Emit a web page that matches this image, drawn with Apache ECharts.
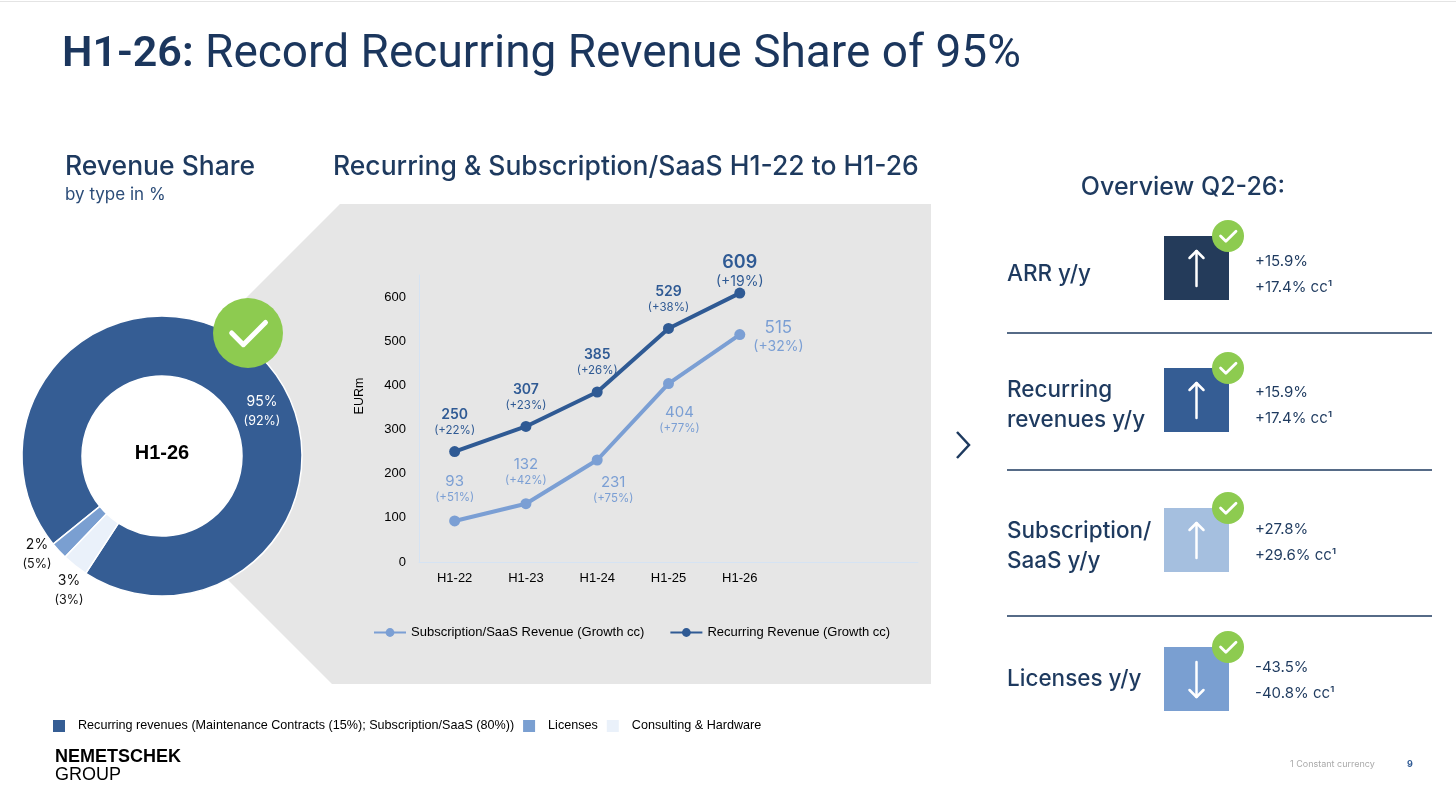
<!DOCTYPE html>
<html>
<head>
<meta charset="utf-8">
<script src="https://cdn.jsdelivr.net/npm/echarts@6/dist/echarts.min.js"></script>
<style>
  html, body { margin: 0; padding: 0; background: #fff; }
  #chart { width: 1456px; height: 801px; }
</style>
</head>
<body>
<div id="chart"></div>
<script>
// --- data ---
const pieNames = [
  'Recurring revenues (Maintenance Contracts (15%); Subscription/SaaS (80%))',
  'Licenses',
  'Consulting & Hardware'
];
const pieShare = [95, 2, 3];
const pieSharePrev = [92, 5, 3];

const years = ['H1-22', 'H1-23', 'H1-24', 'H1-25', 'H1-26'];
const recurring = [250, 307, 385, 529, 609];
const recurringGrowth = [22, 23, 26, 38, 19];
const saas = [93, 132, 231, 404, 515];
const saasGrowth = [51, 42, 75, 77, 32];

const kpiNames = ['ARR y/y', 'Recurring\nrevenues y/y', 'Subscription/\nSaaS y/y', 'Licenses y/y'];
const kpiGrowth = [15.9, 15.9, 27.8, -43.5];
const kpiGrowthCc = [17.4, 17.4, 29.6, -40.8];

const REC_NAME = 'Recurring Revenue (Growth cc)';
const SAAS_NAME = 'Subscription/SaaS Revenue (Growth cc)';

// --- styling ---
const NAVY = '#1E3A5F';
const HEAD = 'Inter, "Noto Sans", sans-serif';
const ARIAL = '"Liberation Sans", Arial, sans-serif';
const REC_COLOR = '#2F5A94';
const SAAS_COLOR = '#7B9FD4';
const PIE_COLORS = ['#355D94', '#7A9FD1', '#EAF1FA'];
const GREEN = '#8DCB50';
const KPI_COLORS = ['#243B5A', '#355D94', '#A5BFDF', '#7A9FD1'];

// label placement for the light line (layout only)
const saasLabelPos = ['top', 'top', 'bottom', 'bottom', 'right'];
const saasLabelDist = [10, 10, 8, 14, 8];
const saasLabelOffset = [[0, 0], [0, 0], [16, 0], [11, 0], [0, 2]];

const chart = echarts.init(document.getElementById('chart'));

const fmtPct = (v) => (v > 0 ? '+' : '') + v.toFixed(1) + '%';

function text(x, y, str, size, color, extra) {
  return Object.assign({
    type: 'text', x: x, y: y, z: 50,
    style: Object.assign({
      text: str, fill: color, fontSize: size, fontFamily: HEAD,
      align: 'left', verticalAlign: 'middle'
    }, (extra && extra.style) || {})
  }, extra && extra.el);
}

function check(cx, cy, r, lw) {
  const k = r / 15;
  return [
    { type: 'circle', z: 60, shape: { cx: cx, cy: cy, r: r }, style: { fill: GREEN } },
    {
      type: 'polyline', z: 61,
      shape: { points: [[cx - 7 * k, cy], [cx - 2 * k, cy + 5 * k], [cx + 7.5 * k, cy - 4.5 * k]] },
      style: { stroke: '#fff', lineWidth: lw, fill: null, lineCap: 'round', lineJoin: 'round' }
    }
  ];
}

const graphics = [];

// thin rule at very top
graphics.push({ type: 'line', z: 1, shape: { x1: 0, y1: 1.5, x2: 1456, y2: 1.5 }, style: { stroke: '#e4e4e4', lineWidth: 1 } });

// grey funnel panel behind the line chart, white disc keeps the donut hole clean
graphics.push({
  type: 'polygon', z: -10,
  shape: { points: [[340, 204], [931, 204], [931, 684], [332, 684], [200, 552], [200, 344]] },
  style: { fill: '#E6E6E6' }
});
graphics.push({ type: 'circle', z: -5, shape: { cx: 162, cy: 456, r: 82 }, style: { fill: '#fff' } });

// headings
graphics.push({
  type: 'text', x: 62, y: 55, z: 50,
  style: {
    text: '{b|H1-26:}{r| Record Recurring Revenue Share of 95%}',
    verticalAlign: 'middle',
    rich: {
      b: { fontFamily: 'Roboto, sans-serif', fontSize: 43, fontWeight: 600, fill: '#1B365D' },
      r: { fontFamily: 'Roboto, sans-serif', fontSize: 46, fill: '#1B365D' }
    }
  }
});
graphics.push(text(65, 167, 'Revenue Share', 26.5, NAVY, { style: { fontWeight: 500 } }));
graphics.push(text(65, 195, 'by type in %', 17, '#2B4C78'));
graphics.push(text(333, 167, 'Recurring & Subscription/SaaS H1-22 to H1-26', 26.5, NAVY, { style: { fontWeight: 500 } }));

// donut annotations
graphics.push(text(162, 453, 'H1-26', 20, '#000', { style: { fontFamily: ARIAL, fontWeight: 'bold', align: 'center' } }));
const pieLabelAt = [[262, 402], [37, 545], [69, 581]];
const pieLabelColor = ['#fff', '#111', '#111'];
pieShare.forEach((v, i) => {
  const p = pieLabelAt[i];
  graphics.push(text(p[0], p[1], v + '%', 14, pieLabelColor[i], { style: { align: 'center' } }));
  graphics.push(text(p[0], p[1] + 19, '(' + pieSharePrev[i] + '%)', 12.5, pieLabelColor[i], { style: { align: 'center' } }));
});
graphics.push(...check(248, 333, 35, 5));

// y axis title
graphics.push({
  type: 'text', x: 360, y: 396, rotation: Math.PI / 2, z: 50,
  style: { text: 'EURm', fill: '#000', fontSize: 12.5, fontFamily: ARIAL, align: 'center', verticalAlign: 'middle' }
});

// chevron
graphics.push({
  type: 'polyline', z: 50,
  shape: { points: [[957, 432], [969, 445], [957, 458]] },
  style: { stroke: NAVY, lineWidth: 2.5, fill: null }
});

// overview panel
graphics.push(text(1183, 187, 'Overview Q2-26:', 25, NAVY, { style: { align: 'center', fontWeight: 500 } }));
const rowTop = [236, 368, 508, 647];
const rowLabelY = [274, 405, 546, 679];
const rowValueY = [[261, 287], [392, 418], [529, 555], [667, 693]];
const sepY = [333, 470, 616];
sepY.forEach((y) => graphics.push({
  type: 'line', z: 40, shape: { x1: 1007, y1: y, x2: 1432, y2: y }, style: { stroke: NAVY, lineWidth: 1.5 }
}));
kpiNames.forEach((name, i) => {
  const top = rowTop[i];
  graphics.push(text(1007, rowLabelY[i], name, 22.5, NAVY, { style: { lineHeight: 30, fontWeight: 500 } }));
  graphics.push({ type: 'rect', z: 40, shape: { x: 1164, y: top, width: 65, height: 64 }, style: { fill: KPI_COLORS[i] } });
  const cx = 1196.5, y1 = top + 15, y2 = top + 50;
  const up = kpiGrowth[i] > 0;
  const tip = up ? y1 : y2, dir = up ? 1 : -1;
  graphics.push({ type: 'line', z: 45, shape: { x1: cx, y1: y1, x2: cx, y2: y2 }, style: { stroke: '#fff', lineWidth: 2.5, lineCap: 'round' } });
  graphics.push({
    type: 'polyline', z: 45,
    shape: { points: [[cx - 7, tip + 7 * dir], [cx, tip], [cx + 7, tip + 7 * dir]] },
    style: { stroke: '#fff', lineWidth: 2.5, fill: null, lineCap: 'round', lineJoin: 'round' }
  });
  graphics.push(...check(1228, top, 16, 2.8));
  graphics.push(text(1255, rowValueY[i][0], fmtPct(kpiGrowth[i]), 15, NAVY));
  graphics.push(text(1255, rowValueY[i][1], fmtPct(kpiGrowthCc[i]) + ' cc¹', 15, NAVY));
});

// footer
graphics.push(text(55, 757, 'NEMETSCHEK', 18, '#000', { style: { fontFamily: ARIAL, fontWeight: 'bold' } }));
graphics.push(text(55, 775, 'GROUP', 18, '#000', { style: { fontFamily: ARIAL } }));
graphics.push(text(1290, 764, '1 Constant currency', 9, '#aaa'));
graphics.push(text(1407, 764, '9', 9, REC_COLOR, { style: { fontWeight: 'bold' } }));

const labelRich = {
  rv: { fontFamily: HEAD, fontSize: 14, fontWeight: 600, color: REC_COLOR, lineHeight: 17, align: 'center' },
  rg: { fontFamily: HEAD, fontSize: 11.5, color: REC_COLOR, lineHeight: 15, align: 'center' },
  rvb: { fontFamily: HEAD, fontSize: 18, fontWeight: 600, color: REC_COLOR, lineHeight: 21, align: 'center' },
  rgb: { fontFamily: HEAD, fontSize: 14, color: REC_COLOR, lineHeight: 18, align: 'center' },
  sv: { fontFamily: HEAD, fontSize: 15, color: SAAS_COLOR, lineHeight: 18, align: 'center' },
  sg: { fontFamily: HEAD, fontSize: 11.5, color: SAAS_COLOR, lineHeight: 15, align: 'center' },
  svb: { fontFamily: HEAD, fontSize: 17, color: SAAS_COLOR, lineHeight: 21, align: 'center' },
  sgb: { fontFamily: HEAD, fontSize: 14, color: SAAS_COLOR, lineHeight: 18, align: 'center' }
};

const option = {
  animation: false,
  textStyle: { fontFamily: ARIAL },
  graphic: graphics,
  legend: [
    {
      data: pieNames,
      left: 46, top: 713,
      icon: 'rect', itemWidth: 14, itemHeight: 14, itemGap: 7,
      formatter: '  {name}',
      textStyle: { fontFamily: ARIAL, fontSize: 12.6, color: '#000' }
    },
    {
      data: [SAAS_NAME, REC_NAME],
      left: 368, top: 621,
      itemWidth: 32, itemHeight: 11, itemGap: 25,
      textStyle: { fontFamily: ARIAL, fontSize: 13, color: '#000' }
    }
  ],
  grid: { left: 419, right: 538, top: 275, bottom: 239 },
  xAxis: {
    type: 'category',
    data: years,
    max: 6,
    axisLine: { show: true, lineStyle: { color: '#D5E3F3', width: 1 } },
    axisTick: { show: false },
    axisLabel: {
      margin: 10, fontSize: 13, color: '#000', fontFamily: ARIAL,
      formatter: (v) => v || ''
    }
  },
  yAxis: {
    type: 'value',
    min: 0, max: 650, interval: 100,
    axisLine: { show: true, lineStyle: { color: '#D5E3F3', width: 1 } },
    axisTick: { show: false },
    splitLine: { show: false },
    axisLabel: { margin: 13, fontSize: 13, color: '#000', fontFamily: ARIAL, showMaxLabel: false }
  },
  series: [
    {
      type: 'pie',
      name: 'Revenue Share',
      center: [162, 456],
      radius: [80, 140],
      startAngle: 237,
      clockwise: false,
      silent: true,
      label: { show: false },
      labelLine: { show: false },
      itemStyle: { borderColor: '#fff', borderWidth: 1.5 },
      data: pieNames.map((n, i) => ({ name: n, value: pieShare[i], itemStyle: { color: PIE_COLORS[i] } }))
    },
    {
      name: REC_NAME,
      type: 'line',
      color: REC_COLOR,
      z: 4,
      symbol: 'circle',
      symbolSize: 11,
      lineStyle: { width: 4, color: REC_COLOR },
      itemStyle: { color: REC_COLOR },
      label: {
        show: true, position: 'top', distance: 8,
        formatter: (p) => {
          const big = p.dataIndex === recurring.length - 1;
          return `{${big ? 'rvb' : 'rv'}|${p.value}}\n{${big ? 'rgb' : 'rg'}|(+${recurringGrowth[p.dataIndex]}%)}`;
        },
        rich: labelRich
      },
      data: recurring.map((v, i) => (i === recurring.length - 1 ? { value: v, label: { distance: -3 } } : v))
    },
    {
      name: SAAS_NAME,
      type: 'line',
      color: SAAS_COLOR,
      z: 3,
      symbol: 'circle',
      symbolSize: 11,
      lineStyle: { width: 4, color: SAAS_COLOR },
      itemStyle: { color: SAAS_COLOR },
      label: {
        show: true,
        formatter: (p) => {
          const big = p.dataIndex === saas.length - 1;
          return `{${big ? 'svb' : 'sv'}|${p.value}}\n{${big ? 'sgb' : 'sg'}|(+${saasGrowth[p.dataIndex]}%)}`;
        },
        rich: labelRich
      },
      data: saas.map((v, i) => ({
        value: v,
        label: { position: saasLabelPos[i], distance: saasLabelDist[i], offset: saasLabelOffset[i] }
      }))
    }
  ]
};

chart.setOption(option);
</script>
</body>
</html>
